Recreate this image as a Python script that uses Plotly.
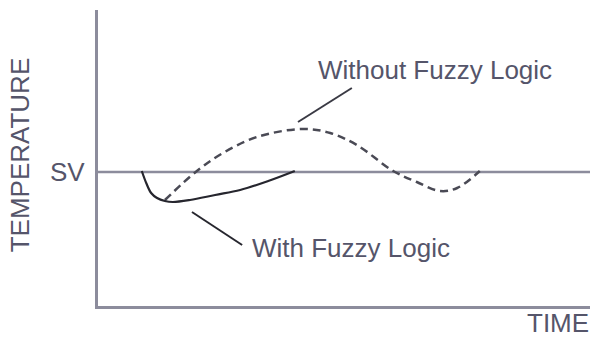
import plotly.graph_objects as go

# Data (time in arbitrary units 0-100, temperature deviation from set value SV = 0)
with_time = [8.9, 9.8, 10.8, 12.0, 13.6, 15.2, 18.7, 23.8, 28.9, 34.6, 40.0]
with_temp = [0.1, -1.1, -2.1, -2.6, -2.9, -3.0, -2.8, -2.3, -1.8, -0.9, 0.1]

without_time = [13.6, 20.1, 25.4, 32.3, 41.6, 47.2, 52.6, 60.0, 64.8, 69.5, 73.0, 77.6]
without_temp = [-2.8, 0.1, 1.9, 3.5, 4.3, 3.9, 2.7, 0.1, -1.0, -1.9, -1.6, 0.1]

sv_time = [0, 100]
sv_temp = [0, 0]

label_without = "Without Fuzzy Logic"
label_with = "With Fuzzy Logic"
label_sv = "SV"
x_title = "TIME"
y_title = "TEMPERATURE"

text_color = "#55556a"
axis_color = "#8c8c9c"
font_family = "Liberation Sans, Arial, sans-serif"

fig = go.Figure()
fig.add_trace(go.Scatter(x=sv_time, y=sv_temp, mode="lines",
                         line=dict(color=axis_color, width=2.5), hoverinfo="skip"))
fig.add_trace(go.Scatter(x=without_time, y=without_temp, mode="lines",
                         line=dict(color="#4a4a55", width=2.5, dash="8px,5px", shape="spline"),
                         hoverinfo="skip"))
fig.add_trace(go.Scatter(x=with_time, y=with_temp, mode="lines",
                         line=dict(color="#26262e", width=2.2, shape="spline"),
                         hoverinfo="skip"))

# leader lines
fig.add_trace(go.Scatter(x=[40.65, 51.6], y=[5.0, 8.4], mode="lines",
                         line=dict(color="#3a3a44", width=2), hoverinfo="skip"))
fig.add_trace(go.Scatter(x=[19.1, 29.3], y=[-4.0, -7.3], mode="lines",
                         line=dict(color="#26262e", width=2), hoverinfo="skip"))

fnt = dict(family=font_family, size=26, color=text_color)
fig.add_annotation(x=68.5, y=10.2, text=label_without, showarrow=False, font=fnt,
                   xanchor="center", yanchor="middle")
fig.add_annotation(x=51.4, y=-7.6, text=label_with, showarrow=False, font=fnt,
                   xanchor="center", yanchor="middle")
fig.add_annotation(x=-0.022, xref="paper", y=0, text=label_sv, showarrow=False, font=fnt,
                   xanchor="right", yanchor="middle")
fig.add_annotation(x=0.935, xref="paper", y=-0.057, yref="paper", text=x_title,
                   showarrow=False, font=fnt, xanchor="center", yanchor="middle")
fig.add_annotation(x=-0.158, xref="paper", y=0.51, yref="paper", text=y_title,
                   showarrow=False, font=fnt, textangle=-90,
                   xanchor="center", yanchor="middle")

fig.update_layout(
    width=592, height=339,
    margin=dict(l=98, r=2, t=10, b=33),
    paper_bgcolor="white", plot_bgcolor="white",
    showlegend=False,
    xaxis=dict(range=[0, 100], showgrid=False, zeroline=False, showticklabels=False,
               ticks="", showline=True, linecolor=axis_color, linewidth=2.5, fixedrange=True),
    yaxis=dict(range=[-13.4, 16.2], showgrid=False, zeroline=False, showticklabels=False,
               ticks="", showline=True, linecolor=axis_color, linewidth=2.5, fixedrange=True),
)

fig.write_html("out.html", config={"displayModeBar": False},
               post_script="document.body.style.margin='0';document.body.style.overflow='hidden';")
